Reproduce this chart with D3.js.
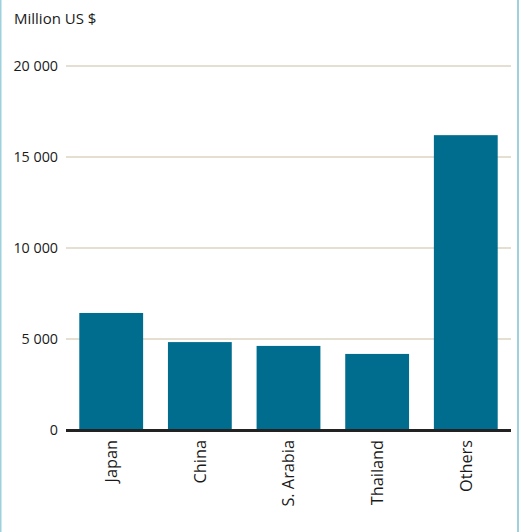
<!DOCTYPE html>
<html><head><meta charset="utf-8">
<script src="https://cdn.jsdelivr.net/npm/d3@7"></script>
<style>body{margin:0;background:#fff}svg{display:block}text{font-family:"Open Sans",sans-serif;fill:#1a1a1a}</style>
</head><body><div id="c"></div>
<script>
const categories = ["Japan","China","S. Arabia","Thailand","Others"];
const values = [6430, 4830, 4620, 4180, 16200];
const tickValues = [0,5000,10000,15000,20000];
const tickLabels = ["0","5 000","10 000","15 000","20 000"];
const W=521,H=532;
const svg=d3.select("#c").append("svg").attr("width",W).attr("height",H);
svg.append("line").attr("x1",0.5).attr("x2",0.5).attr("y1",0).attr("y2",H).attr("stroke","#9fd0de").attr("stroke-width",2);
svg.append("line").attr("x1",518).attr("x2",518).attr("y1",0).attr("y2",H).attr("stroke","#9fd0de").attr("stroke-width",2);
const x=d3.scaleBand().domain(categories).range([66,511]).paddingInner(0.28).paddingOuter(0.15);
const y=d3.scaleLinear().domain([0,20000]).range([430,66]);
svg.append("text").attr("x",14).attr("y",24).attr("font-size",15).text("Million US $");
const g=svg.append("g");
tickValues.forEach((t,i)=>{
  if(t>0) g.append("line").attr("x1",66).attr("x2",511).attr("y1",y(t)).attr("y2",y(t)).attr("stroke","#cbbfa6").attr("stroke-width",1.2);
  g.append("text").attr("x",58).attr("y",y(t)).attr("dy","0.35em").attr("text-anchor","end").attr("font-size",14.3).text(tickLabels[i]);
});
svg.selectAll("rect.bar").data(values).enter().append("rect").attr("class","bar")
 .attr("x",(d,i)=>x(categories[i])).attr("width",x.bandwidth())
 .attr("y",d=>y(d)).attr("height",d=>y(0)-y(d)).attr("fill","#006c8e");
svg.append("line").attr("x1",66).attr("x2",511).attr("y1",y(0)+0.5).attr("y2",y(0)+0.5).attr("stroke","#222").attr("stroke-width",3);
svg.selectAll("text.cat").data(categories).enter().append("text").attr("class","cat")
 .attr("transform",d=>`translate(${x(d)+x.bandwidth()/2},440) rotate(-90)`)
 .attr("dy","0.35em").attr("text-anchor","end").attr("font-size",16.3).text(d=>d);
</script></body></html>
